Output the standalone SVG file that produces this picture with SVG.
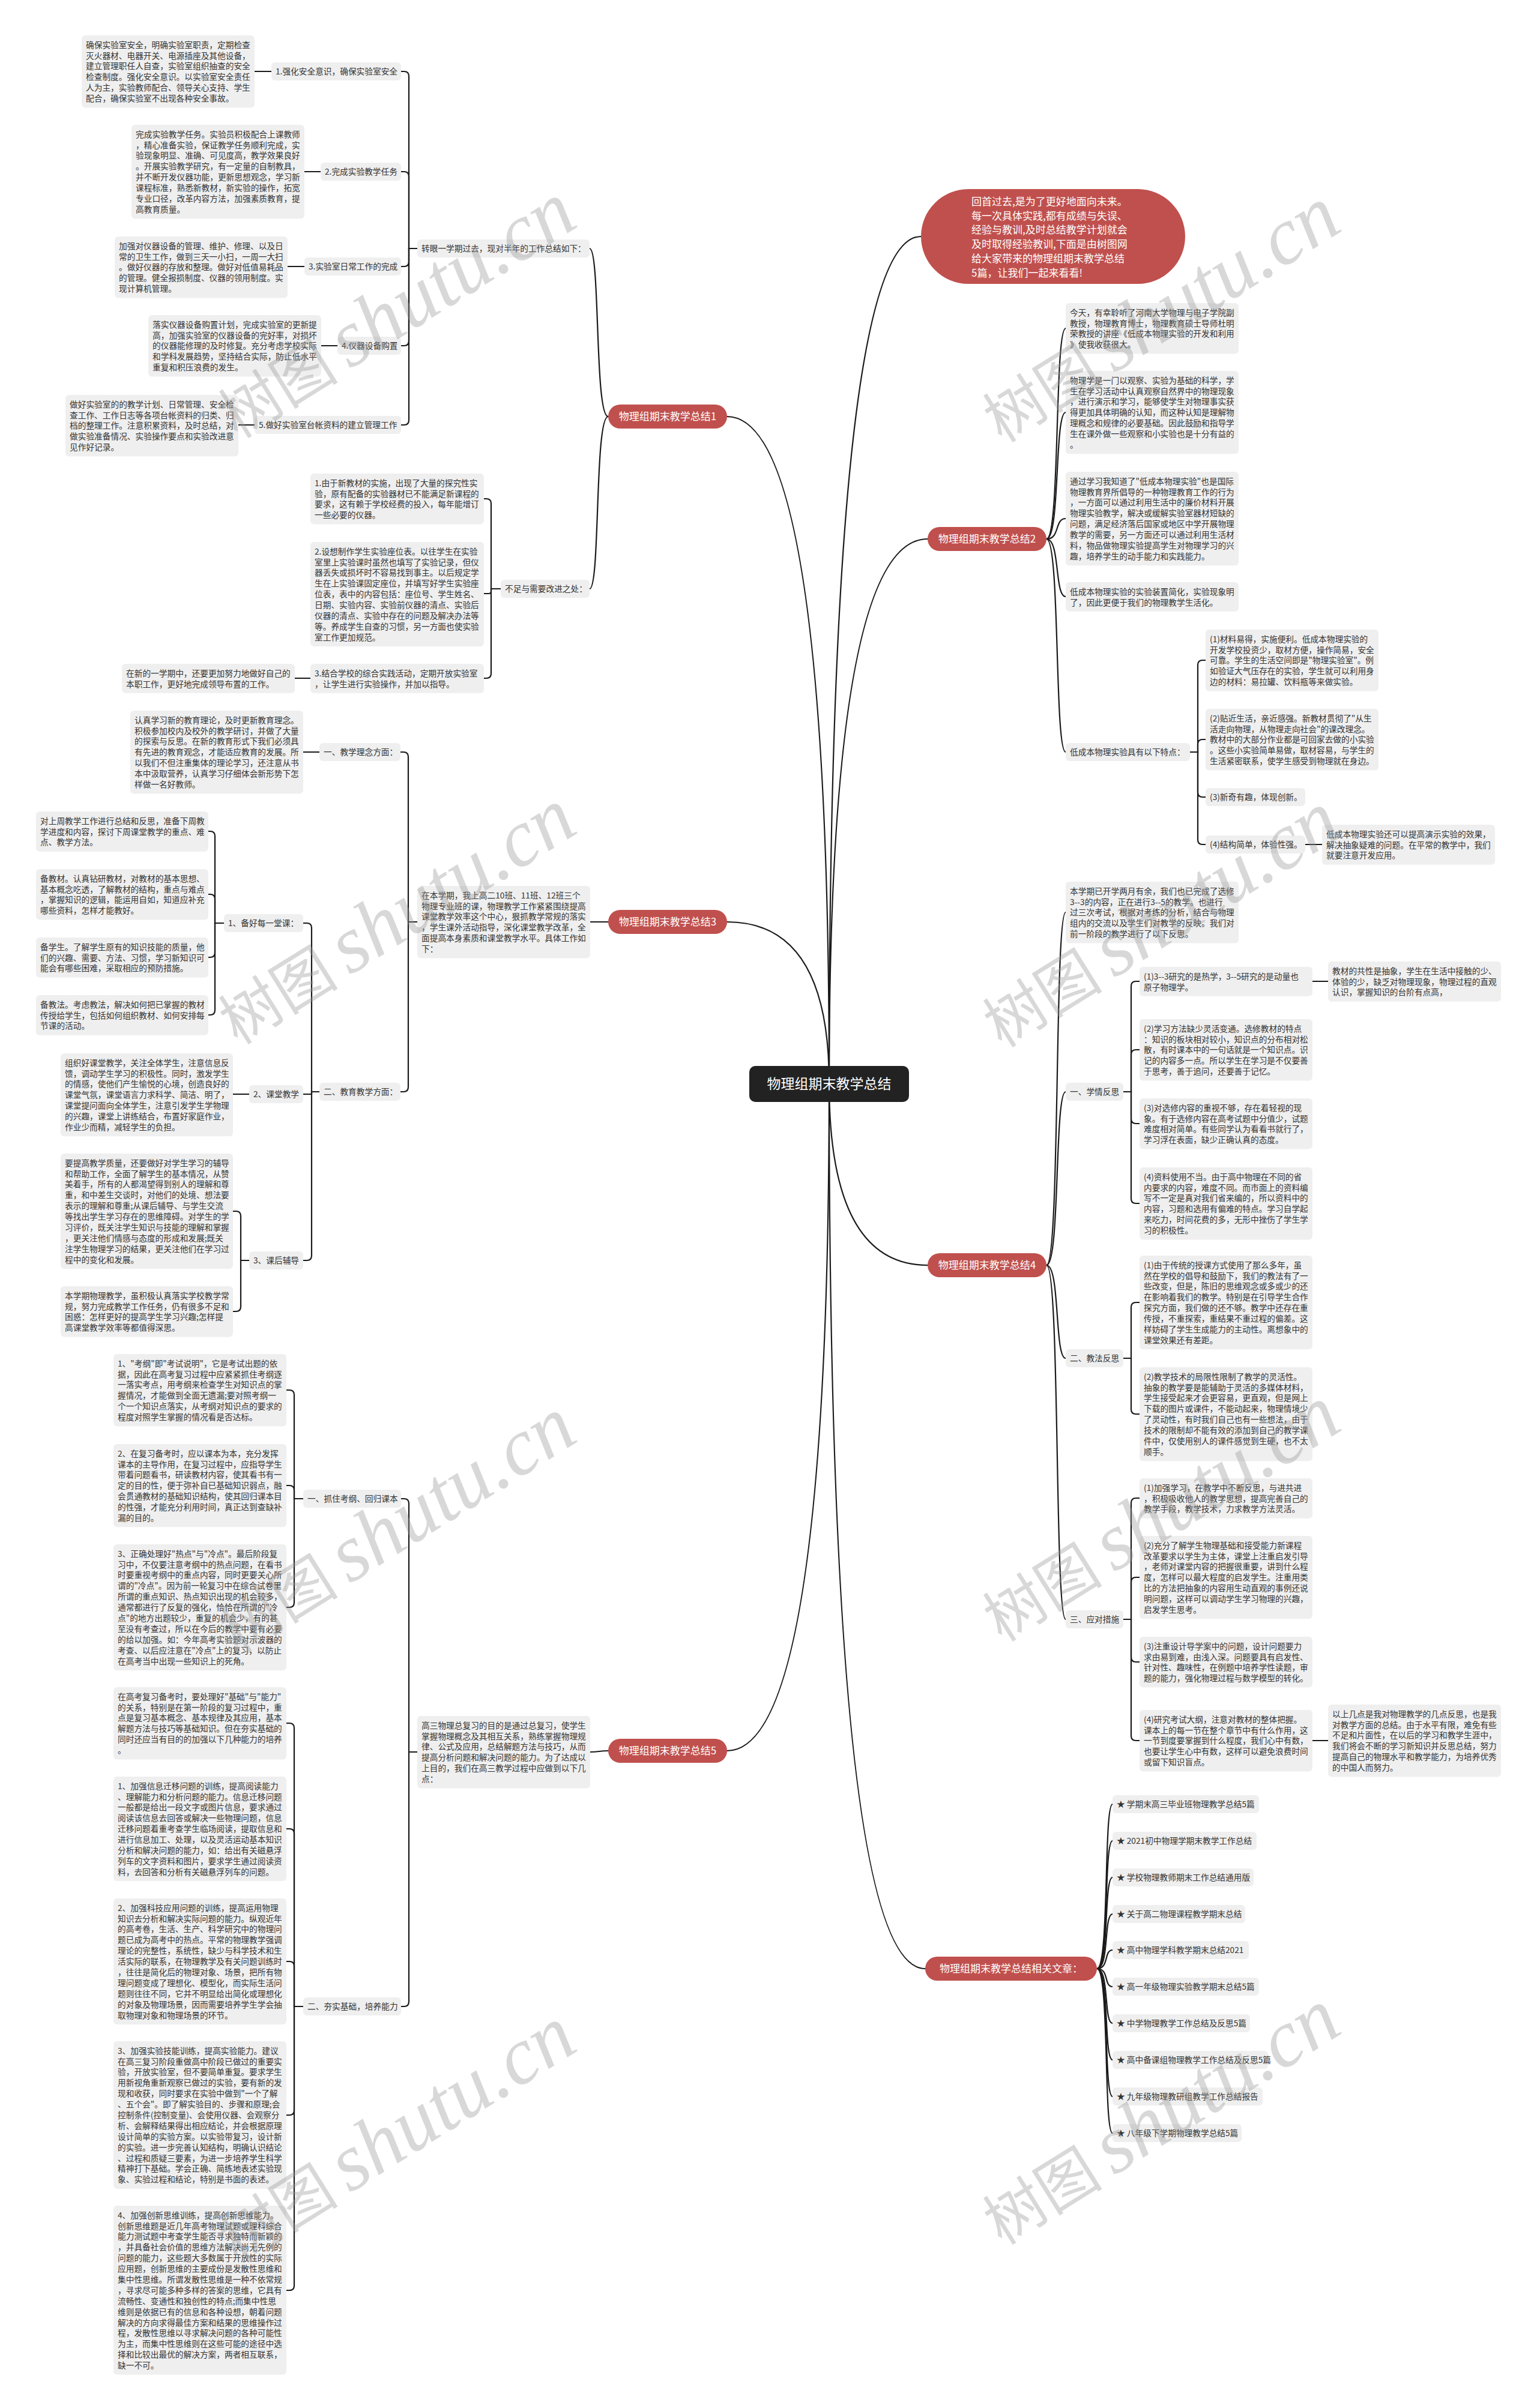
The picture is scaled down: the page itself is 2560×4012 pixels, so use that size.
<svg xmlns="http://www.w3.org/2000/svg" width="2560" height="4012" viewBox="0 0 2560 4012">
<style>
.c{fill:none;stroke:#1a1a1a;stroke-width:2.2;stroke-linecap:round}
.lf{fill:#efefef}
.t{font-family:"Noto Sans CJK SC","Noto Sans",sans-serif;font-size:13.7px;fill:#333}
.br{fill:#c0504d}
.bt{font-family:"Noto Sans CJK SC","Noto Sans",sans-serif;font-size:17px;fill:#fff;text-anchor:middle}
.it{font-family:"Noto Sans CJK SC","Noto Sans",sans-serif;font-size:17px;fill:#fff}
.wm{font-family:"Liberation Serif","Noto Sans CJK SC",serif;fill:#999;fill-opacity:.38}
</style>
<rect width="2560" height="4012" fill="#fff"/>
<g id="connectors">
<path class="c" d="M1381 1805 Q1381 694 1211 694"/>
<path class="c" d="M1381 1805 Q1381 1536 1211 1536"/>
<path class="c" d="M1381 1805 Q1381 2917 1211 2917"/>
<path class="c" d="M1381 1805 Q1381 394 1534 394"/>
<path class="c" d="M1381 1805 Q1381 898 1545 898"/>
<path class="c" d="M1381 1805 Q1381 2108 1545 2108"/>
<path class="c" d="M1381 1805 Q1381 3280 1541 3280"/>
<path class="c" d="M1013 694 C990 694 1000 414 982 414"/>
<path class="c" d="M1013 694 C990 694 1000 981 982 981"/>
<path class="c" d="M695 414 H681 V127 Q681 119 673 119 H668"/>
<path class="c" d="M695 414 H681 V294 Q681 286 673 286 H668"/>
<path class="c" d="M695 414 H681 V436 Q681 444 673 444 H668"/>
<path class="c" d="M695 414 H681 V568 Q681 576 673 576 H668"/>
<path class="c" d="M695 414 H681 V700 Q681 708 673 708 H668"/>
<path class="c" d="M452 119 H424 M534 286 H507 M507 444 H479 M562 576 H535 M424 708 H397"/>
<path class="c" d="M834 981 H818 V839 Q818 831 810 831 H806"/>
<path class="c" d="M834 981 H818 V985 Q818 989 814 989 H806"/>
<path class="c" d="M834 981 H818 V1122 Q818 1130 810 1130 H806"/>
<path class="c" d="M517 1130 H491"/>
<path class="c" d="M1013 1536 H983"/>
<path class="c" d="M695 1536 H680 V1261 Q680 1253 672 1253 H667"/>
<path class="c" d="M695 1536 H680 V1811 Q680 1819 672 1819 H667"/>
<path class="c" d="M532 1253 H505"/>
<path class="c" d="M532 1819 H519 V1546 Q519 1538 511 1538 H505"/>
<path class="c" d="M532 1819 H519 V1823 H505"/>
<path class="c" d="M532 1819 H519 V2092 Q519 2100 511 2100 H505"/>
<path class="c" d="M373 1538 H358 V1393 Q358 1385 350 1385 H347"/>
<path class="c" d="M373 1538 H358 V1498 Q358 1490 350 1490 H347"/>
<path class="c" d="M373 1538 H358 V1587 Q358 1595 350 1595 H347"/>
<path class="c" d="M373 1538 H358 V1683 Q358 1691 350 1691 H347"/>
<path class="c" d="M415 1823 H388"/>
<path class="c" d="M415 2100 H401 V2026 Q401 2018 393 2018 H388"/>
<path class="c" d="M415 2100 H401 V2177 Q401 2185 393 2185 H388"/>
<path class="c" d="M1013 2917 C998 2917 998 2919 983 2919"/>
<path class="c" d="M695 2919 H681 V2505 Q681 2497 673 2497 H668"/>
<path class="c" d="M695 2919 H681 V3335 Q681 3343 673 3343 H668"/>
<path class="c" d="M505 2497 H490 V2324 Q490 2316 482 2316 H477"/>
<path class="c" d="M505 2497 H490 V2483 Q490 2475 482 2475 H477"/>
<path class="c" d="M505 2497 H490 V2670 Q490 2678 482 2678 H477"/>
<path class="c" d="M505 3343 H490 V2879 Q490 2871 482 2871 H477"/>
<path class="c" d="M505 3343 H490 V3055 Q490 3047 482 3047 H477"/>
<path class="c" d="M505 3343 H490 V3276 Q490 3268 482 3268 H477"/>
<path class="c" d="M505 3343 H490 V3516 Q490 3524 482 3524 H477"/>
<path class="c" d="M505 3343 H490 V3808 Q490 3816 482 3816 H477"/>
<path class="c" d="M1743 898 C1766 898 1756 547 1775 547"/>
<path class="c" d="M1743 898 C1766 898 1756 687 1775 687"/>
<path class="c" d="M1743 898 C1766 898 1756 864 1775 864"/>
<path class="c" d="M1743 898 C1766 898 1756 994 1775 994"/>
<path class="c" d="M1743 898 C1766 898 1756 1253 1775 1253"/>
<path class="c" d="M1982 1253 H1995 V1108 Q1995 1100 2003 1100 H2008"/>
<path class="c" d="M1982 1253 H1995 V1240 Q1995 1232 2003 1232 H2008"/>
<path class="c" d="M1982 1253 H1995 V1320 Q1995 1328 2003 1328 H2008"/>
<path class="c" d="M1982 1253 H1995 V1399 Q1995 1407 2003 1407 H2008"/>
<path class="c" d="M2174 1407 H2202"/>
<path class="c" d="M1743 2108 C1766 2108 1756 1520 1775 1520"/>
<path class="c" d="M1743 2108 C1766 2108 1756 1819 1775 1819"/>
<path class="c" d="M1743 2108 C1766 2108 1756 2263 1775 2263"/>
<path class="c" d="M1743 2108 C1766 2108 1756 2698 1775 2698"/>
<path class="c" d="M1871 1819 H1884 V1643 Q1884 1635 1892 1635 H1898"/>
<path class="c" d="M1871 1819 H1884 V1757 Q1884 1749 1892 1749 H1898"/>
<path class="c" d="M1871 1819 H1884 V1864 Q1884 1872 1892 1872 H1898"/>
<path class="c" d="M1871 1819 H1884 V1997 Q1884 2005 1892 2005 H1898"/>
<path class="c" d="M2186 1635 H2212"/>
<path class="c" d="M1871 2263 H1884 V2178 Q1884 2170 1892 2170 H1898"/>
<path class="c" d="M1871 2263 H1884 V2348 Q1884 2356 1892 2356 H1898"/>
<path class="c" d="M1871 2698 H1884 V2504 Q1884 2496 1892 2496 H1898"/>
<path class="c" d="M1871 2698 H1884 V2636 Q1884 2628 1892 2628 H1898"/>
<path class="c" d="M1871 2698 H1884 V2761 Q1884 2769 1892 2769 H1898"/>
<path class="c" d="M1871 2698 H1884 V2892 Q1884 2900 1892 2900 H1898"/>
<path class="c" d="M2186 2900 H2212"/>
<path class="c" d="M1827 3280 C1848 3280 1838 3006 1853 3006"/>
<path class="c" d="M1827 3280 C1848 3280 1838 3067 1853 3067"/>
<path class="c" d="M1827 3280 C1848 3280 1838 3128 1853 3128"/>
<path class="c" d="M1827 3280 C1848 3280 1838 3189 1853 3189"/>
<path class="c" d="M1827 3280 C1848 3280 1838 3249 1853 3249"/>
<path class="c" d="M1827 3280 C1848 3280 1838 3310 1853 3310"/>
<path class="c" d="M1827 3280 C1848 3280 1838 3371 1853 3371"/>
<path class="c" d="M1827 3280 C1848 3280 1838 3432 1853 3432"/>
<path class="c" d="M1827 3280 C1848 3280 1838 3493 1853 3493"/>
<path class="c" d="M1827 3280 C1848 3280 1838 3554 1853 3554"/>
</g>

<g id="root"><rect x="1248" y="1776" width="266" height="60" rx="10" fill="#222"/><text x="1381" y="1814" font-family="Noto Sans CJK SC, sans-serif" font-size="23" fill="#fff" text-anchor="middle">物理组期末教学总结</text></g>

<g id="intro"><rect x="1534" y="315" width="440" height="158" rx="79" class="br"/><text class="it"><tspan x="1618" y="342">回首过去,是为了更好地面向未来。</tspan><tspan x="1618" dy="23.7">每一次具体实践,都有成绩与失误、</tspan><tspan x="1618" dy="23.7">经验与教训,及时总结教学计划就会</tspan><tspan x="1618" dy="23.7">及时取得经验教训,下面是由树图网</tspan><tspan x="1618" dy="23.7">给大家带来的物理组期末教学总结</tspan><tspan x="1618" dy="23.7">5篇，让我们一起来看看!</tspan></text></g>

<g id="b1"><rect x="1013" y="674" width="198" height="40" rx="20" class="br"/><text class="bt" x="1112" y="700">物理组期末教学总结1</text></g>
<g id="b2"><rect x="1545" y="878" width="198" height="40" rx="20" class="br"/><text class="bt" x="1644" y="904">物理组期末教学总结2</text></g>
<g id="b3"><rect x="1013" y="1516" width="198" height="40" rx="20" class="br"/><text class="bt" x="1112" y="1542">物理组期末教学总结3</text></g>
<g id="b4"><rect x="1545" y="2088" width="198" height="40" rx="20" class="br"/><text class="bt" x="1644" y="2114">物理组期末教学总结4</text></g>
<g id="b5"><rect x="1013" y="2897" width="198" height="40" rx="20" class="br"/><text class="bt" x="1112" y="2923">物理组期末教学总结5</text></g>
<g id="b6"><rect x="1541" y="3260" width="286" height="40" rx="20" class="br"/><text class="bt" x="1684" y="3286">物理组期末教学总结相关文章：</text></g>

<!-- Branch 1 -->
<g id="n1-0" transform="translate(695,399)"><rect class="lf" width="287" height="30" rx="6"/><text class="t" x="7" y="20">转眼一学期过去，现对半年的工作总结如下：</text></g>
<g id="n1-l1" transform="translate(452,104)"><rect class="lf" width="216" height="30" rx="6"/><text class="t" x="7" y="20">1.强化安全意识，确保实验室安全</text></g>
<g id="n1-l2" transform="translate(534,271)"><rect class="lf" width="134" height="30" rx="6"/><text class="t" x="7" y="20">2.完成实验教学任务</text></g>
<g id="n1-l3" transform="translate(507,429)"><rect class="lf" width="161" height="30" rx="6"/><text class="t" x="7" y="20">3.实验室日常工作的完成</text></g>
<g id="n1-l4" transform="translate(562,561)"><rect class="lf" width="106" height="30" rx="6"/><text class="t" x="7" y="20">4.仪器设备购置</text></g>
<g id="n1-l5" transform="translate(424,693)"><rect class="lf" width="244" height="30" rx="6"/><text class="t" x="7" y="20">5.做好实验室台帐资料的建立管理工作</text></g>
<g id="n1-a" transform="translate(136,59)"><rect class="lf" width="288" height="120.4" rx="6"/><text class="t"><tspan x="7" y="20.6">确保实验室安全，明确实验室职责，定期检查</tspan><tspan x="7" dy="17.9">灭火器材、电器开关、电源插座及其他设备，</tspan><tspan x="7" dy="17.9">建立管理职任人自查，实验室组织抽查的安全</tspan><tspan x="7" dy="17.9">检查制度。强化安全意识。以实验室安全责任</tspan><tspan x="7" dy="17.9">人为主，实验教师配合、领导关心支持、学生</tspan><tspan x="7" dy="17.9">配合，确保实验室不出现各种安全事故。</tspan></text></g>
<g id="n1-b" transform="translate(219,208)"><rect class="lf" width="288" height="156.2" rx="6"/><text class="t"><tspan x="7" y="20.6">完成实验教学任务。实验员积极配合上课教师</tspan><tspan x="7" dy="17.9">，精心准备实验，保证教学任务顺利完成，实</tspan><tspan x="7" dy="17.9">验现象明显、准确、可见度高，教学效果良好</tspan><tspan x="7" dy="17.9">。开展实验教学研究，有一定量的自制教具，</tspan><tspan x="7" dy="17.9">并不断开发仪器功能，更新思想观念，学习新</tspan><tspan x="7" dy="17.9">课程标准，熟悉新教材，新实验的操作，拓宽</tspan><tspan x="7" dy="17.9">专业口径，改革内容方法，加强素质教育，提</tspan><tspan x="7" dy="17.9">高教育质量。</tspan></text></g>
<g id="n1-c" transform="translate(191,394)"><rect class="lf" width="288" height="102.5" rx="6"/><text class="t"><tspan x="7" y="20.6">加强对仪器设备的管理、维护、修理、以及日</tspan><tspan x="7" dy="17.9">常的卫生工作，做到三天一小扫，一周一大扫</tspan><tspan x="7" dy="17.9">。做好仪器的存放和整理。做好对低值易耗品</tspan><tspan x="7" dy="17.9">的管理。健全报损制度、仪器的领用制度。实</tspan><tspan x="7" dy="17.9">现计算机管理。</tspan></text></g>
<g id="n1-d" transform="translate(247,525)"><rect class="lf" width="288" height="102.5" rx="6"/><text class="t"><tspan x="7" y="20.6">落实仪器设备购置计划，完成实验室的更新提</tspan><tspan x="7" dy="17.9">高，加强实验室的仪器设备的完好率，对损坏</tspan><tspan x="7" dy="17.9">的仪器能修理的及时修复。充分考虑学校实际</tspan><tspan x="7" dy="17.9">和学科发展趋势，坚持结合实际，防止低水平</tspan><tspan x="7" dy="17.9">重复和积压浪费的发生。</tspan></text></g>
<g id="n1-e" transform="translate(109,658)"><rect class="lf" width="288" height="102.5" rx="6"/><text class="t"><tspan x="7" y="20.6">做好实验室的的教学计划、日常管理、安全检</tspan><tspan x="7" dy="17.9">查工作、工作日志等各项台帐资料的归类、归</tspan><tspan x="7" dy="17.9">档的整理工作。注意积累资料，及时总结，对</tspan><tspan x="7" dy="17.9">做实验准备情况、实验操作要点和实验改进意</tspan><tspan x="7" dy="17.9">见作好记录。</tspan></text></g>
<g id="n1-1" transform="translate(834,966)"><rect class="lf" width="148" height="30" rx="6"/><text class="t" x="7" y="20">不足与需要改进之处：</text></g>
<g id="n1-1a" transform="translate(517,789)"><rect class="lf" width="289" height="84.6" rx="6"/><text class="t"><tspan x="7" y="20.6">1.由于新教材的实施，出现了大量的探究性实</tspan><tspan x="7" dy="17.9">验，原有配备的实验器材已不能满足新课程的</tspan><tspan x="7" dy="17.9">要求，这有赖于学校经费的投入，每年能增订</tspan><tspan x="7" dy="17.9">一些必要的仪器。</tspan></text></g>
<g id="n1-1b" transform="translate(517,903)"><rect class="lf" width="289" height="174.1" rx="6"/><text class="t"><tspan x="7" y="20.6">2.设想制作学生实验座位表。以往学生在实验</tspan><tspan x="7" dy="17.9">室里上实验课时虽然也填写了实验记录，但仪</tspan><tspan x="7" dy="17.9">器丢失或损坏时不容易找到事主。以后规定学</tspan><tspan x="7" dy="17.9">生在上实验课固定座位，并填写好学生实验座</tspan><tspan x="7" dy="17.9">位表，表中的内容包括：座位号、学生姓名、</tspan><tspan x="7" dy="17.9">日期、实验内容、实验前仪器的清点、实验后</tspan><tspan x="7" dy="17.9">仪器的清点、实验中存在的问题及解决办法等</tspan><tspan x="7" dy="17.9">等。养成学生自查的习惯，另一方面也使实验</tspan><tspan x="7" dy="17.9">室工作更加规范。</tspan></text></g>
<g id="n1-1c" transform="translate(517,1106)"><rect class="lf" width="289" height="48.8" rx="6"/><text class="t"><tspan x="7" y="20.6">3.结合学校的综合实践活动，定期开放实验室</tspan><tspan x="7" dy="17.9">，让学生进行实验操作，并加以指导。</tspan></text></g>
<g id="n1-1d" transform="translate(203,1106)"><rect class="lf" width="288" height="48.8" rx="6"/><text class="t"><tspan x="7" y="20.6">在新的一学期中，还要更加努力地做好自己的</tspan><tspan x="7" dy="17.9">本职工作，更好地完成领导布置的工作。</tspan></text></g>

<!-- Branch 3 -->
<g id="n3-0" transform="translate(695,1476)"><rect class="lf" width="288" height="120.4" rx="6"/><text class="t"><tspan x="7" y="20.6">在本学期，我上高二10班、11班、12班三个</tspan><tspan x="7" dy="17.9">物理专业班的课，物理教学工作紧紧围绕提高</tspan><tspan x="7" dy="17.9">课堂教学效率这个中心，狠抓教学常规的落实</tspan><tspan x="7" dy="17.9">，学生课外活动指导，深化课堂教学改革，全</tspan><tspan x="7" dy="17.9">面提高本身素质和课堂教学水平。具体工作如</tspan><tspan x="7" dy="17.9">下：</tspan></text></g>
<g id="n3-1" transform="translate(532,1238)"><rect class="lf" width="135" height="30" rx="6"/><text class="t" x="7" y="20">一、教学理念方面：</text></g>
<g id="n3-1a" transform="translate(217,1184)"><rect class="lf" width="288" height="138.3" rx="6"/><text class="t"><tspan x="7" y="20.6">认真学习新的教育理论，及时更新教育理念。</tspan><tspan x="7" dy="17.9">积极参加校内及校外的教学研讨，并做了大量</tspan><tspan x="7" dy="17.9">的探索与反思。在新的教育形式下我们必须具</tspan><tspan x="7" dy="17.9">有先进的教育观念，才能适应教育的发展。所</tspan><tspan x="7" dy="17.9">以我们不但注重集体的理论学习，还注意从书</tspan><tspan x="7" dy="17.9">本中汲取营养，认真学习仔细体会新形势下怎</tspan><tspan x="7" dy="17.9">样做一名好教师。</tspan></text></g>
<g id="n3-2" transform="translate(532,1804)"><rect class="lf" width="135" height="30" rx="6"/><text class="t" x="7" y="20">二、教育教学方面：</text></g>
<g id="n3-21" transform="translate(373,1523)"><rect class="lf" width="132" height="30" rx="6"/><text class="t" x="7" y="20">1、备好每一堂课：</text></g>
<g id="n3-22" transform="translate(415,1808)"><rect class="lf" width="90" height="30" rx="6"/><text class="t" x="7" y="20">2、课堂教学</text></g>
<g id="n3-23" transform="translate(415,2085)"><rect class="lf" width="90" height="30" rx="6"/><text class="t" x="7" y="20">3、课后辅导</text></g>
<g id="n3-21a" transform="translate(60,1352)"><rect class="lf" width="287" height="66.7" rx="6"/><text class="t"><tspan x="7" y="20.6">对上周教学工作进行总结和反思，准备下周教</tspan><tspan x="7" dy="17.9">学进度和内容，探讨下周课堂教学的重点、难</tspan><tspan x="7" dy="17.9">点、教学方法。</tspan></text></g>
<g id="n3-21b" transform="translate(60,1448)"><rect class="lf" width="287" height="84.6" rx="6"/><text class="t"><tspan x="7" y="20.6">备教材。认真钻研教材，对教材的基本思想、</tspan><tspan x="7" dy="17.9">基本概念吃透，了解教材的结构，重点与难点</tspan><tspan x="7" dy="17.9">，掌握知识的逻辑，能运用自如，知道应补充</tspan><tspan x="7" dy="17.9">哪些资料，怎样才能教好。</tspan></text></g>
<g id="n3-21c" transform="translate(60,1562)"><rect class="lf" width="287" height="66.7" rx="6"/><text class="t"><tspan x="7" y="20.6">备学生。了解学生原有的知识技能的质量，他</tspan><tspan x="7" dy="17.9">们的兴趣、需要、方法、习惯，学习新知识可</tspan><tspan x="7" dy="17.9">能会有哪些困难，采取相应的预防措施。</tspan></text></g>
<g id="n3-21d" transform="translate(60,1658)"><rect class="lf" width="287" height="66.7" rx="6"/><text class="t"><tspan x="7" y="20.6">备教法。考虑教法，解决如何把已掌握的教材</tspan><tspan x="7" dy="17.9">传授给学生，包括如何组织教材、如何安排每</tspan><tspan x="7" dy="17.9">节课的活动。</tspan></text></g>
<g id="n3-22a" transform="translate(101,1755)"><rect class="lf" width="287" height="138.3" rx="6"/><text class="t"><tspan x="7" y="20.6">组织好课堂教学，关注全体学生，注意信息反</tspan><tspan x="7" dy="17.9">馈，调动学生学习的积极性。同时，激发学生</tspan><tspan x="7" dy="17.9">的情感，使他们产生愉悦的心境，创造良好的</tspan><tspan x="7" dy="17.9">课堂气氛，课堂语言力求科学、简洁、明了，</tspan><tspan x="7" dy="17.9">课堂提问面向全体学生，注意引发学生学物理</tspan><tspan x="7" dy="17.9">的兴趣，课堂上讲练结合，布置好家庭作业，</tspan><tspan x="7" dy="17.9">作业少而精，减轻学生的负担。</tspan></text></g>
<g id="n3-23a" transform="translate(101,1922)"><rect class="lf" width="287" height="192" rx="6"/><text class="t"><tspan x="7" y="20.6">要提高教学质量，还要做好对学生学习的辅导</tspan><tspan x="7" dy="17.9">和帮助工作，全面了解学生的基本情况，从赞</tspan><tspan x="7" dy="17.9">美着手，所有的人都渴望得到别人的理解和尊</tspan><tspan x="7" dy="17.9">重，和中差生交谈时，对他们的处境、想法要</tspan><tspan x="7" dy="17.9">表示的理解和尊重;从课后辅导、与学生交流</tspan><tspan x="7" dy="17.9">等找出学生学习存在的思维障碍。对学生的学</tspan><tspan x="7" dy="17.9">习评价，既关注学生知识与技能的理解和掌握</tspan><tspan x="7" dy="17.9">，更关注他们情感与态度的形成和发展;既关</tspan><tspan x="7" dy="17.9">注学生物理学习的结果，更关注他们在学习过</tspan><tspan x="7" dy="17.9">程中的变化和发展。</tspan></text></g>
<g id="n3-23b" transform="translate(101,2143)"><rect class="lf" width="287" height="84.6" rx="6"/><text class="t"><tspan x="7" y="20.6">本学期物理教学，虽积极认真落实学校教学常</tspan><tspan x="7" dy="17.9">规，努力完成教学工作任务，仍有很多不足和</tspan><tspan x="7" dy="17.9">困惑：怎样更好的提高学生学习兴趣;怎样提</tspan><tspan x="7" dy="17.9">高课堂教学效率等都值得深思。</tspan></text></g>

<!-- Branch 5 -->
<g id="n5-0" transform="translate(695,2859)"><rect class="lf" width="288" height="120.4" rx="6"/><text class="t"><tspan x="7" y="20.6">高三物理总复习的目的是通过总复习，使学生</tspan><tspan x="7" dy="17.9">掌握物理概念及其相互关系，熟练掌握物理规</tspan><tspan x="7" dy="17.9">律、公式及应用，总结解题方法与技巧，从而</tspan><tspan x="7" dy="17.9">提高分析问题和解决问题的能力。为了达成以</tspan><tspan x="7" dy="17.9">上目的，我们在高三教学过程中应做到以下几</tspan><tspan x="7" dy="17.9">点：</tspan></text></g>
<g id="n5-1" transform="translate(505,2482)"><rect class="lf" width="163" height="30" rx="6"/><text class="t" x="7" y="20">一、抓住考纲、回归课本</text></g>
<g id="n5-2" transform="translate(505,3328)"><rect class="lf" width="163" height="30" rx="6"/><text class="t" x="7" y="20">二、夯实基础，培养能力</text></g>
<g id="n5-1a" transform="translate(189,2256)"><rect class="lf" width="288" height="120.4" rx="6"/><text class="t"><tspan x="7" y="20.6">1、"考纲"即"考试说明"，它是考试出题的依</tspan><tspan x="7" dy="17.9">据，因此在高考复习过程中应紧紧抓住考纲逐</tspan><tspan x="7" dy="17.9">一落实考点，用考纲来检查学生对知识点的掌</tspan><tspan x="7" dy="17.9">握情况，才能做到全面无遗漏;要对照考纲一</tspan><tspan x="7" dy="17.9">个一个知识点落实，从考纲对知识点的要求的</tspan><tspan x="7" dy="17.9">程度对照学生掌握的情况看是否达标。</tspan></text></g>
<g id="n5-1b" transform="translate(189,2406)"><rect class="lf" width="288" height="138.3" rx="6"/><text class="t"><tspan x="7" y="20.6">2、在复习备考时，应以课本为本，充分发挥</tspan><tspan x="7" dy="17.9">课本的主导作用，在复习过程中，应指导学生</tspan><tspan x="7" dy="17.9">带着问题看书，研读教材内容，使其看书有一</tspan><tspan x="7" dy="17.9">定的目的性，便于弥补自已基础知识弱点，融</tspan><tspan x="7" dy="17.9">会贯通教材的基础知识结构，使其回归课本目</tspan><tspan x="7" dy="17.9">的性强，才能充分利用时间，真正达到查缺补</tspan><tspan x="7" dy="17.9">漏的目的。</tspan></text></g>
<g id="n5-1c" transform="translate(189,2573)"><rect class="lf" width="288" height="209.9" rx="6"/><text class="t"><tspan x="7" y="20.6">3、正确处理好"热点"与"冷点"。最后阶段复</tspan><tspan x="7" dy="17.9">习中，不仅要注意考纲中的热点问题，在看书</tspan><tspan x="7" dy="17.9">时要重视考纲中的重点内容，同时更要关心所</tspan><tspan x="7" dy="17.9">谓的"冷点"。因为前一轮复习中在综合试卷里</tspan><tspan x="7" dy="17.9">所谓的重点知识、热点知识出现的机会较多，</tspan><tspan x="7" dy="17.9">通常都进行了反复的强化，恰恰在所谓的"冷</tspan><tspan x="7" dy="17.9">点"的地方出题较少，重复的机会少，有的甚</tspan><tspan x="7" dy="17.9">至没有考查过，所以在今后的教学中要有必要</tspan><tspan x="7" dy="17.9">的给以加强。如：今年高考实验题对示波器的</tspan><tspan x="7" dy="17.9">考查、以后应注意在"冷点"上的复习，以防止</tspan><tspan x="7" dy="17.9">在高考当中出现一些知识上的死角。</tspan></text></g>
<g id="n5-2a" transform="translate(189,2811)"><rect class="lf" width="288" height="120.4" rx="6"/><text class="t"><tspan x="7" y="20.6">在高考复习备考时，要处理好"基础"与"能力"</tspan><tspan x="7" dy="17.9">的关系，特别是在第一阶段的复习过程中，重</tspan><tspan x="7" dy="17.9">点是复习基本概念、基本规律及其应用，基本</tspan><tspan x="7" dy="17.9">解题方法与技巧等基础知识。但在夯实基础的</tspan><tspan x="7" dy="17.9">同时还应当有目的的加强以下几种能力的培养</tspan><tspan x="7" dy="17.9">。</tspan></text></g>
<g id="n5-2b" transform="translate(189,2960)"><rect class="lf" width="288" height="174.1" rx="6"/><text class="t"><tspan x="7" y="20.6">1、加强信息迁移问题的训练，提高阅读能力</tspan><tspan x="7" dy="17.9">、理解能力和分析问题的能力。信息迁移问题</tspan><tspan x="7" dy="17.9">一般都是给出一段文字或图片信息，要求通过</tspan><tspan x="7" dy="17.9">阅读该信息去回答或解决一些物理问题，信息</tspan><tspan x="7" dy="17.9">迁移问题着重考查学生临场阅读，提取信息和</tspan><tspan x="7" dy="17.9">进行信息加工、处理，以及灵活运动基本知识</tspan><tspan x="7" dy="17.9">分析和解决问题的能力，如：给出有关磁悬浮</tspan><tspan x="7" dy="17.9">列车的文字资料和图片，要求学生通过阅读资</tspan><tspan x="7" dy="17.9">料，去回答和分析有关磁悬浮列车的问题。</tspan></text></g>
<g id="n5-2c" transform="translate(189,3163)"><rect class="lf" width="288" height="209.9" rx="6"/><text class="t"><tspan x="7" y="20.6">2、加强科技应用问题的训练，提高运用物理</tspan><tspan x="7" dy="17.9">知识去分析和解决实际问题的能力。纵观近年</tspan><tspan x="7" dy="17.9">的高考卷，生活、生产、科学研究中的物理问</tspan><tspan x="7" dy="17.9">题已成为高考中的热点。平常的物理教学强调</tspan><tspan x="7" dy="17.9">理论的完整性，系统性，缺少与科学技术和生</tspan><tspan x="7" dy="17.9">活实际的联系，在物理教学及有关问题训练时</tspan><tspan x="7" dy="17.9">，往往是简化后的物理对象、场景，把所有物</tspan><tspan x="7" dy="17.9">理问题变成了理想化、模型化，而实际生活问</tspan><tspan x="7" dy="17.9">题则往往不同，它并不明显给出简化或理想化</tspan><tspan x="7" dy="17.9">的对象及物理场景，因而需要培养学生学会抽</tspan><tspan x="7" dy="17.9">取物理对象和物理场景的环节。</tspan></text></g>
<g id="n5-2d" transform="translate(189,3401)"><rect class="lf" width="288" height="245.7" rx="6"/><text class="t"><tspan x="7" y="20.6">3、加强实验技能训练，提高实验能力。建议</tspan><tspan x="7" dy="17.9">在高三复习阶段重做高中阶段已做过的重要实</tspan><tspan x="7" dy="17.9">验，开放实验室，但不要简单重复。要求学生</tspan><tspan x="7" dy="17.9">用新视角重新观察已做过的实验，要有新的发</tspan><tspan x="7" dy="17.9">现和收获，同时要求在实验中做到"一个了解</tspan><tspan x="7" dy="17.9">、五个会"。即了解实验目的、步骤和原理;会</tspan><tspan x="7" dy="17.9">控制条件(控制变量)、会使用仪器、会观察分</tspan><tspan x="7" dy="17.9">析、会解释结果得出相应结论，并会根据原理</tspan><tspan x="7" dy="17.9">设计简单的实验方案。以实验带复习，设计新</tspan><tspan x="7" dy="17.9">的实验。进一步完善认知结构，明确认识结论</tspan><tspan x="7" dy="17.9">、过程和质疑三要素，为进一步培养学生科学</tspan><tspan x="7" dy="17.9">精神打下基础。学会正确、简练地表述实验现</tspan><tspan x="7" dy="17.9">象、实验过程和结论，特别是书面的表述。</tspan></text></g>
<g id="n5-2e" transform="translate(189,3675)"><rect class="lf" width="288" height="281.5" rx="6"/><text class="t"><tspan x="7" y="20.6">4、加强创新思维训练，提高创新思维能力。</tspan><tspan x="7" dy="17.9">创新思维题是近几年高考物理试题或理科综合</tspan><tspan x="7" dy="17.9">能力测试题中考查学生能否寻求独特而新颖的</tspan><tspan x="7" dy="17.9">，并具备社会价值的思维方法解决尚无先例的</tspan><tspan x="7" dy="17.9">问题的能力，这些题大多数属于开放性的实际</tspan><tspan x="7" dy="17.9">应用题，创新思维的主要成份是发散性思维和</tspan><tspan x="7" dy="17.9">集中性思维。所谓发散性思维是一种不依常规</tspan><tspan x="7" dy="17.9">，寻求尽可能多种多样的答案的思维，它具有</tspan><tspan x="7" dy="17.9">流畅性、变通性和独创性的特点;而集中性思</tspan><tspan x="7" dy="17.9">维则是依据已有的信息和各种设想，朝着问题</tspan><tspan x="7" dy="17.9">解决的方向求得最佳方案和结果的思维操作过</tspan><tspan x="7" dy="17.9">程，发散性思维以寻求解决问题的各种可能性</tspan><tspan x="7" dy="17.9">为主，而集中性思维则在这些可能的途径中选</tspan><tspan x="7" dy="17.9">择和比较出最优的解决方案，两者相互联系，</tspan><tspan x="7" dy="17.9">缺一不可。</tspan></text></g>

<!-- Branch 2 -->
<g id="n2-a" transform="translate(1775,505)"><rect class="lf" width="288" height="84.6" rx="6"/><text class="t"><tspan x="7" y="20.6">今天，有幸聆听了河南大学物理与电子学院副</tspan><tspan x="7" dy="17.9">教授，物理教育博士，物理教育硕士导师杜明</tspan><tspan x="7" dy="17.9">荣教授的讲座《低成本物理实验的开发和利用</tspan><tspan x="7" dy="17.9">》使我收获很大。</tspan></text></g>
<g id="n2-b" transform="translate(1775,618)"><rect class="lf" width="288" height="138.3" rx="6"/><text class="t"><tspan x="7" y="20.6">物理学是一门以观察、实验为基础的科学，学</tspan><tspan x="7" dy="17.9">生在学习活动中认真观察自然界中的物理现象</tspan><tspan x="7" dy="17.9">，进行演示和学习，能够使学生对物理事实获</tspan><tspan x="7" dy="17.9">得更加具体明确的认知，而这种认知是理解物</tspan><tspan x="7" dy="17.9">理概念和规律的必要基础。因此鼓励和指导学</tspan><tspan x="7" dy="17.9">生在课外做一些观察和小实验也是十分有益的</tspan><tspan x="7" dy="17.9">。</tspan></text></g>
<g id="n2-c" transform="translate(1775,786)"><rect class="lf" width="288" height="156.2" rx="6"/><text class="t"><tspan x="7" y="20.6">通过学习我知道了"低成本物理实验"也是国际</tspan><tspan x="7" dy="17.9">物理教育界所倡导的一种物理教育工作的行为</tspan><tspan x="7" dy="17.9">，一方面可以通过利用生活中的廉价材料开展</tspan><tspan x="7" dy="17.9">物理实验教学，解决或缓解实验室器材短缺的</tspan><tspan x="7" dy="17.9">问题，满足经济落后国家或地区中学开展物理</tspan><tspan x="7" dy="17.9">教学的需要，另一方面还可以通过利用生活材</tspan><tspan x="7" dy="17.9">料，物品做物理实验提高学生对物理学习的兴</tspan><tspan x="7" dy="17.9">趣，培养学生的动手能力和实践能力。</tspan></text></g>
<g id="n2-d" transform="translate(1775,970)"><rect class="lf" width="288" height="48.8" rx="6"/><text class="t"><tspan x="7" y="20.6">低成本物理实验的实验装置简化，实验现象明</tspan><tspan x="7" dy="17.9">了，因此更便于我们的物理教学生活化。</tspan></text></g>
<g id="n2-e" transform="translate(1775,1238)"><rect class="lf" width="207" height="30" rx="6"/><text class="t" x="7" y="20">低成本物理实验具有以下特点：</text></g>
<g id="n2-e1" transform="translate(2008,1049)"><rect class="lf" width="288" height="102.5" rx="6"/><text class="t"><tspan x="7" y="20.6">(1)材料易得，实施便利。低成本物理实验的</tspan><tspan x="7" dy="17.9">开发学校投资少，取材方便，操作简易，安全</tspan><tspan x="7" dy="17.9">可靠。学生的生活空间即是"物理实验室"。例</tspan><tspan x="7" dy="17.9">如验证大气压存在的实验，学生就可以利用身</tspan><tspan x="7" dy="17.9">边的材料：易拉罐、饮料瓶等来做实验。</tspan></text></g>
<g id="n2-e2" transform="translate(2008,1181)"><rect class="lf" width="288" height="102.5" rx="6"/><text class="t"><tspan x="7" y="20.6">(2)贴近生活，亲近感强。新教材贯彻了"从生</tspan><tspan x="7" dy="17.9">活走向物理，从物理走向社会"的课改理念。</tspan><tspan x="7" dy="17.9">教材中的大部分作业都是可回家去做的小实验</tspan><tspan x="7" dy="17.9">。这些小实验简单易做，取材容易，与学生的</tspan><tspan x="7" dy="17.9">生活紧密联系，使学生感受到物理就在身边。</tspan></text></g>
<g id="n2-e3" transform="translate(2008,1313)"><rect class="lf" width="166" height="30" rx="6"/><text class="t" x="7" y="20">(3)新奇有趣，体现创新。</text></g>
<g id="n2-e4" transform="translate(2008,1392)"><rect class="lf" width="166" height="30" rx="6"/><text class="t" x="7" y="20">(4)结构简单，体验性强。</text></g>
<g id="n2-e4a" transform="translate(2202,1374)"><rect class="lf" width="288" height="66.7" rx="6"/><text class="t"><tspan x="7" y="20.6">低成本物理实验还可以提高演示实验的效果，</tspan><tspan x="7" dy="17.9">解决抽象疑难的问题。在平常的教学中，我们</tspan><tspan x="7" dy="17.9">就要注意开发应用。</tspan></text></g>

<!-- Branch 4 -->
<g id="n4-0" transform="translate(1775,1469)"><rect class="lf" width="288" height="102.5" rx="6"/><text class="t"><tspan x="7" y="20.6">本学期已开学两月有余，我们也已完成了选修</tspan><tspan x="7" dy="17.9">3--3的内容，正在进行3--5的教学。也进行</tspan><tspan x="7" dy="17.9">过三次考试，根据对考练的分析，结合与物理</tspan><tspan x="7" dy="17.9">组内的交流以及学生们对教学的反映。我们对</tspan><tspan x="7" dy="17.9">前一阶段的教学进行了以下反思。</tspan></text></g>
<g id="n4-1" transform="translate(1775,1804)"><rect class="lf" width="96" height="30" rx="6"/><text class="t" x="7" y="20">一、学情反思</text></g>
<g id="n4-2" transform="translate(1775,2248)"><rect class="lf" width="96" height="30" rx="6"/><text class="t" x="7" y="20">二、教法反思</text></g>
<g id="n4-3" transform="translate(1775,2683)"><rect class="lf" width="96" height="30" rx="6"/><text class="t" x="7" y="20">三、应对措施</text></g>
<g id="n4-1a" transform="translate(1898,1611)"><rect class="lf" width="288" height="48.8" rx="6"/><text class="t"><tspan x="7" y="20.6">(1)3--3研究的是热学，3--5研究的是动量也</tspan><tspan x="7" dy="17.9">原子物理学。</tspan></text></g>
<g id="n4-1a1" transform="translate(2212,1602)"><rect class="lf" width="288" height="66.7" rx="6"/><text class="t"><tspan x="7" y="20.6">教材的共性是抽象，学生在生活中接触的少、</tspan><tspan x="7" dy="17.9">体验的少，缺乏对物理现象，物理过程的直观</tspan><tspan x="7" dy="17.9">认识，掌握知识的台阶有点高，</tspan></text></g>
<g id="n4-1b" transform="translate(1898,1698)"><rect class="lf" width="288" height="102.5" rx="6"/><text class="t"><tspan x="7" y="20.6">(2)学习方法缺少灵活变通。选修教材的特点</tspan><tspan x="7" dy="17.9">：知识的板块相对较小，知识点的分布相对松</tspan><tspan x="7" dy="17.9">散，有时课本中的一句话就是一个知识点。识</tspan><tspan x="7" dy="17.9">记的内容多一点。所以学生在学习是不仅要善</tspan><tspan x="7" dy="17.9">于思考，善于追问，还要善于记忆。</tspan></text></g>
<g id="n4-1c" transform="translate(1898,1830)"><rect class="lf" width="288" height="84.6" rx="6"/><text class="t"><tspan x="7" y="20.6">(3)对选修内容的重视不够，存在着轻视的现</tspan><tspan x="7" dy="17.9">象。有于选修内容在高考试题中分值少，试题</tspan><tspan x="7" dy="17.9">难度相对简单。有些同学认为看看书就行了，</tspan><tspan x="7" dy="17.9">学习浮在表面，缺少正确认真的态度。</tspan></text></g>
<g id="n4-1d" transform="translate(1898,1945)"><rect class="lf" width="288" height="120.4" rx="6"/><text class="t"><tspan x="7" y="20.6">(4)资料使用不当。由于高中物理在不同的省</tspan><tspan x="7" dy="17.9">内要求的内容，难度不同。而市面上的资料编</tspan><tspan x="7" dy="17.9">写不一定是真对我们省来编的，所以资料中的</tspan><tspan x="7" dy="17.9">内容，习题和选用有偏难的特点。学习自学起</tspan><tspan x="7" dy="17.9">来吃力，时间花费的多，无形中挫伤了学生学</tspan><tspan x="7" dy="17.9">习的积极性。</tspan></text></g>
<g id="n4-2a" transform="translate(1898,2092)"><rect class="lf" width="288" height="156.2" rx="6"/><text class="t"><tspan x="7" y="20.6">(1)由于传统的授课方式使用了那么多年，虽</tspan><tspan x="7" dy="17.9">然在学校的倡导和鼓励下，我们的教法有了一</tspan><tspan x="7" dy="17.9">些改变，但是，陈旧的思维观念或多或少的还</tspan><tspan x="7" dy="17.9">在影响着我们的教学。特别是在引导学生合作</tspan><tspan x="7" dy="17.9">探究方面，我们做的还不够。教学中还存在重</tspan><tspan x="7" dy="17.9">传授，不重探索，重结果不重过程的偏差。这</tspan><tspan x="7" dy="17.9">样妨碍了学生生成能力的主动性。离想象中的</tspan><tspan x="7" dy="17.9">课堂效果还有差距。</tspan></text></g>
<g id="n4-2b" transform="translate(1898,2278)"><rect class="lf" width="288" height="156.2" rx="6"/><text class="t"><tspan x="7" y="20.6">(2)教学技术的局限性限制了教学的灵活性。</tspan><tspan x="7" dy="17.9">抽象的教学要是能辅助于灵活的多媒体材料，</tspan><tspan x="7" dy="17.9">学生接受起来才会更容易，更直观，但是网上</tspan><tspan x="7" dy="17.9">下载的图片或课件，不能动起来，物理情境少</tspan><tspan x="7" dy="17.9">了灵动性，有时我们自己也有一些想法，由于</tspan><tspan x="7" dy="17.9">技术的限制却不能有效的添加到自己的教学课</tspan><tspan x="7" dy="17.9">件中，仅使用别人的课件感觉到生硬，也不太</tspan><tspan x="7" dy="17.9">顺手。</tspan></text></g>
<g id="n4-3a" transform="translate(1898,2463)"><rect class="lf" width="288" height="66.7" rx="6"/><text class="t"><tspan x="7" y="20.6">(1)加强学习，在教学中不断反思，与进共进</tspan><tspan x="7" dy="17.9">，积极吸收他人的教学思想，提高完善自己的</tspan><tspan x="7" dy="17.9">教学手段，教学技术，力求教学方法灵活。</tspan></text></g>
<g id="n4-3b" transform="translate(1898,2559)"><rect class="lf" width="288" height="138.3" rx="6"/><text class="t"><tspan x="7" y="20.6">(2)充分了解学生物理基础和接受能力新课程</tspan><tspan x="7" dy="17.9">改革要求以学生为主体，课堂上注重启发引导</tspan><tspan x="7" dy="17.9">，老师对课堂内容的把握很重要，讲到什么程</tspan><tspan x="7" dy="17.9">度，怎样可以最大程度的启发学生。注重用类</tspan><tspan x="7" dy="17.9">比的方法把抽象的内容用生动直观的事例还说</tspan><tspan x="7" dy="17.9">明问题，这样可以调动学生学习物理的兴趣，</tspan><tspan x="7" dy="17.9">启发学生思考。</tspan></text></g>
<g id="n4-3c" transform="translate(1898,2727)"><rect class="lf" width="288" height="84.6" rx="6"/><text class="t"><tspan x="7" y="20.6">(3)注重设计导学案中的问题，设计问题要力</tspan><tspan x="7" dy="17.9">求由易到难，由浅入深。问题要具有启发性、</tspan><tspan x="7" dy="17.9">针对性、趣味性，在例题中培养学性读题，审</tspan><tspan x="7" dy="17.9">题的能力，强化物理过程与数学模型的转化。</tspan></text></g>
<g id="n4-3d" transform="translate(1898,2849)"><rect class="lf" width="288" height="102.5" rx="6"/><text class="t"><tspan x="7" y="20.6">(4)研究考试大纲，注意对教材的整体把握。</tspan><tspan x="7" dy="17.9">课本上的每一节在整个章节中有什么作用，这</tspan><tspan x="7" dy="17.9">一节到度要掌握到什么程度，我们心中有数，</tspan><tspan x="7" dy="17.9">也要让学生心中有数，这样可以避免浪费时间</tspan><tspan x="7" dy="17.9">或留下知识盲点。</tspan></text></g>
<g id="n4-3d1" transform="translate(2212,2840)"><rect class="lf" width="288" height="120.4" rx="6"/><text class="t"><tspan x="7" y="20.6">以上几点是我对物理教学的几点反思，也是我</tspan><tspan x="7" dy="17.9">对教学方面的总结。由于水平有限，难免有些</tspan><tspan x="7" dy="17.9">不足和片面性，在以后的学习和教学生涯中，</tspan><tspan x="7" dy="17.9">我们将会不断的学习新知识并反思总结，努力</tspan><tspan x="7" dy="17.9">提高自己的物理水平和教学能力，为培养优秀</tspan><tspan x="7" dy="17.9">的中国人而努力。</tspan></text></g>

<!-- Related -->
<g id="r1" transform="translate(1853,2991)"><rect class="lf" width="244" height="30" rx="6"/><text class="t" x="7" y="20">★ 学期末高三毕业班物理教学总结5篇</text></g>
<g id="r2" transform="translate(1853,3052)"><rect class="lf" width="240" height="30" rx="6"/><text class="t" x="7" y="20">★ 2021初中物理学期末教学工作总结</text></g>
<g id="r3" transform="translate(1853,3113)"><rect class="lf" width="235" height="30" rx="6"/><text class="t" x="7" y="20">★ 学校物理教师期末工作总结通用版</text></g>
<g id="r4" transform="translate(1853,3174)"><rect class="lf" width="221" height="30" rx="6"/><text class="t" x="7" y="20">★ 关于高二物理课程教学期末总结</text></g>
<g id="r5" transform="translate(1853,3234)"><rect class="lf" width="227" height="30" rx="6"/><text class="t" x="7" y="20">★ 高中物理学科教学期末总结2021</text></g>
<g id="r6" transform="translate(1853,3295)"><rect class="lf" width="244" height="30" rx="6"/><text class="t" x="7" y="20">★ 高一年级物理实验教学期末总结5篇</text></g>
<g id="r7" transform="translate(1853,3356)"><rect class="lf" width="229" height="30" rx="6"/><text class="t" x="7" y="20">★ 中学物理教学工作总结及反思5篇</text></g>
<g id="r8" transform="translate(1853,3417)"><rect class="lf" width="259" height="30" rx="6"/><text class="t" x="7" y="20">★ 高中备课组物理教学工作总结及反思5篇</text></g>
<g id="r9" transform="translate(1853,3478)"><rect class="lf" width="250" height="30" rx="6"/><text class="t" x="7" y="20">★ 九年级物理教研组教学工作总结报告</text></g>
<g id="r10" transform="translate(1853,3539)"><rect class="lf" width="215" height="30" rx="6"/><text class="t" x="7" y="20">★ 八年级下学期物理教学总结5篇</text></g>

<g id="watermarks">
<text class="wm" transform="translate(967,375) rotate(-32)" text-anchor="end"><tspan font-family="Noto Sans CJK SC" font-size="100">树图</tspan><tspan dx="20" font-size="135" font-style="italic">shutu.cn</tspan></text>
<text class="wm" transform="translate(2240,382) rotate(-32)" text-anchor="end"><tspan font-family="Noto Sans CJK SC" font-size="100">树图</tspan><tspan dx="20" font-size="135" font-style="italic">shutu.cn</tspan></text>
<text class="wm" transform="translate(967,1385) rotate(-32)" text-anchor="end"><tspan font-family="Noto Sans CJK SC" font-size="100">树图</tspan><tspan dx="20" font-size="135" font-style="italic">shutu.cn</tspan></text>
<text class="wm" transform="translate(2240,1390) rotate(-32)" text-anchor="end"><tspan font-family="Noto Sans CJK SC" font-size="100">树图</tspan><tspan dx="20" font-size="135" font-style="italic">shutu.cn</tspan></text>
<text class="wm" transform="translate(967,2399) rotate(-32)" text-anchor="end"><tspan font-family="Noto Sans CJK SC" font-size="100">树图</tspan><tspan dx="20" font-size="135" font-style="italic">shutu.cn</tspan></text>
<text class="wm" transform="translate(2240,2380) rotate(-32)" text-anchor="end"><tspan font-family="Noto Sans CJK SC" font-size="100">树图</tspan><tspan dx="20" font-size="135" font-style="italic">shutu.cn</tspan></text>
<text class="wm" transform="translate(967,3414) rotate(-32)" text-anchor="end"><tspan font-family="Noto Sans CJK SC" font-size="100">树图</tspan><tspan dx="20" font-size="135" font-style="italic">shutu.cn</tspan></text>
<text class="wm" transform="translate(2240,3385) rotate(-32)" text-anchor="end"><tspan font-family="Noto Sans CJK SC" font-size="100">树图</tspan><tspan dx="20" font-size="135" font-style="italic">shutu.cn</tspan></text>
</g>
</svg>
